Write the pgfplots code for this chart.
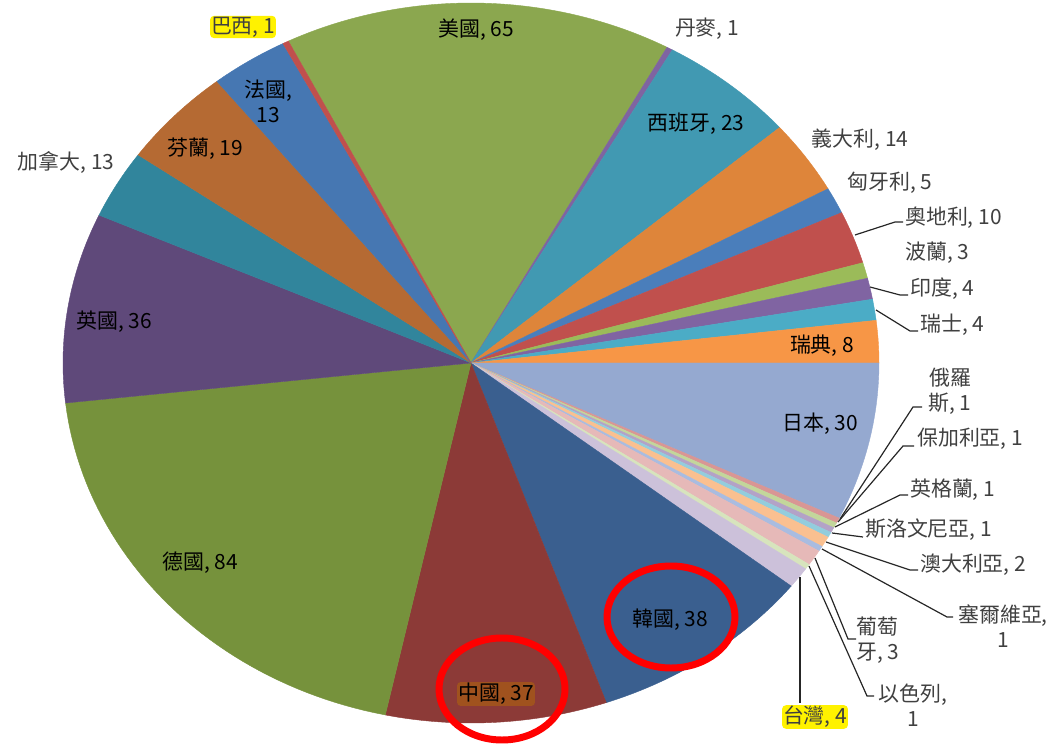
\documentclass[border=0pt]{standalone}
\usepackage{pgfplots}
\pgfplotsset{compat=1.18}
\usepackage{fontspec}
\setmainfont{Noto Sans CJK TC}
\definecolor{cUSA}{HTML}{8BA74F}
\definecolor{cDEN}{HTML}{7F64A1}
\definecolor{cESP}{HTML}{4199B2}
\definecolor{cITA}{HTML}{DE853A}
\definecolor{cHUN}{HTML}{4A7EBB}
\definecolor{cAUT}{HTML}{C0504D}
\definecolor{cPOL}{HTML}{9BBB59}
\definecolor{cIND}{HTML}{8064A2}
\definecolor{cSUI}{HTML}{4BACC6}
\definecolor{cSWE}{HTML}{F79646}
\definecolor{cJPN}{HTML}{95A9D0}
\definecolor{cRUS}{HTML}{D99694}
\definecolor{cBUL}{HTML}{C3D69B}
\definecolor{cENG}{HTML}{B3A2C7}
\definecolor{cSLO}{HTML}{93CDDD}
\definecolor{cAUS}{HTML}{FAC090}
\definecolor{cSRB}{HTML}{A9BCE0}
\definecolor{cPOR}{HTML}{E6B9B8}
\definecolor{cISR}{HTML}{D7E4BD}
\definecolor{cTWN}{HTML}{CCC1DA}
\definecolor{cKOR}{HTML}{3A5F8F}
\definecolor{cCHN}{HTML}{8C3A37}
\definecolor{cGER}{HTML}{76923C}
\definecolor{cGBR}{HTML}{5F497A}
\definecolor{cCAN}{HTML}{31859C}
\definecolor{cFIN}{HTML}{B56A33}
\definecolor{cFRA}{HTML}{4677B2}
\definecolor{cBRA}{HTML}{C0504D}
\definecolor{outtxt}{HTML}{404040}
\definecolor{leader}{HTML}{262626}
\definecolor{chnbg}{HTML}{A0521E}
\tikzset{lbl/.style={font=\fontsize{21}{25}\selectfont}}

\newcommand\cum{0}
\newcommand\total{423}
\newcommand\startang{116.5957}
\newcommand\slice[2]{%
  \pgfmathsetmacro\sa{\startang-\cum/\total*360}%
  \pgfmathsetmacro\ea{\startang-(\cum+#1)/\total*360}%
  \edef\doit{\noexpand\addplot[fill=#2, draw=#2, line width=0.4pt, domain=\ea:\sa, samples=50]
    ({471+408*cos(x)},{381+360*sin(x)}) -- (471,381) -- cycle;}%
  \doit
  \pgfmathsetmacro\newcum{\cum+#1}%
  \global\let\cum\newcum}

\begin{document}
\begin{tikzpicture}
\useasboundingbox (0,0) rectangle (1054bp,744bp);
\begin{axis}[
  scale only axis, width=1054bp, height=744bp,
  xmin=0, xmax=1054, ymin=0, ymax=744,
  hide axis, clip=false,
]
\slice{65}{cUSA}
\slice{1}{cDEN}
\slice{23}{cESP}
\slice{14}{cITA}
\slice{5}{cHUN}
\slice{10}{cAUT}
\slice{3}{cPOL}
\slice{4}{cIND}
\slice{4}{cSUI}
\slice{8}{cSWE}
\slice{30}{cJPN}
\slice{1}{cRUS}
\slice{1}{cBUL}
\slice{1}{cENG}
\slice{1}{cSLO}
\slice{2}{cAUS}
\slice{1}{cSRB}
\slice{3}{cPOR}
\slice{1}{cISR}
\slice{4}{cTWN}
\slice{38}{cKOR}
\slice{37}{cCHN}
\slice{84}{cGER}
\slice{36}{cGBR}
\slice{13}{cCAN}
\slice{19}{cFIN}
\slice{13}{cFRA}
\slice{1}{cBRA}

% leader lines
\draw[leader, line width=1.2pt] (855,509) -- (895,522) -- (903,522);
\draw[leader, line width=1.2pt] (870,457) -- (900,449) -- (908,449);
\draw[leader, line width=1.2pt] (876,434) -- (910,413) -- (918,413);
\draw[leader, line width=1.2pt] (840,225) -- (913,337) -- (922,337);
\draw[leader, line width=1.2pt] (838,222) -- (903,298) -- (914,298);
\draw[leader, line width=1.2pt] (835,217) -- (900,249) -- (908,249);
\draw[leader, line width=1.2pt] (832,211) -- (863,207);
\draw[leader, line width=1.2pt] (826,202) -- (910,174) -- (918,174);
\draw[leader, line width=1.2pt] (822,195) -- (947,127) -- (953,127);
\draw[leader, line width=1.2pt] (815,186) -- (848,105) -- (856,105);
\draw[leader, line width=1.2pt] (809,178) -- (867,48) -- (874,48);
\draw[leader, line width=1.2pt] (800,167) -- (800,41);

% inside labels
\node[lbl, text=black] at (476,714) {美國, 65};
\node[lbl, text=black] at (696,620) {西班牙, 23};
\node[lbl, text=black] at (822,398) {瑞典, 8};
\node[lbl, text=black] at (820,320) {日本, 30};
\node[lbl, text=black] at (670,124) {韓國, 38};
\node[lbl, text=black, fill=chnbg, rounded corners=3pt, inner sep=1pt] at (496,50) {中國, 37};
\node[lbl, text=black] at (200,181) {德國, 84};
\node[lbl, text=black] at (114,422) {英國, 36};
\node[lbl, text=black] at (205,595) {芬蘭, 19};
\node[lbl, text=black, align=center, inner sep=0pt] at (268,643) {法國,\\13};

% outside labels
\node[lbl, text=outtxt] at (707,715) {丹麥, 1};
\node[lbl, text=outtxt] at (860,604) {義大利, 14};
\node[lbl, text=outtxt] at (890,561) {匈牙利, 5};
\node[lbl, text=outtxt, anchor=west, inner sep=1pt] at (904,526) {奧地利, 10};
\node[lbl, text=outtxt, anchor=west, inner sep=1pt] at (904,491) {波蘭, 3};
\node[lbl, text=outtxt, anchor=west, inner sep=1pt] at (909,455) {印度, 4};
\node[lbl, text=outtxt, anchor=west, inner sep=1pt] at (919,419) {瑞士, 4};
\node[lbl, text=outtxt, align=center, inner sep=0pt] at (950,353) {俄羅\\斯, 1};
\node[lbl, text=outtxt, anchor=west, inner sep=1pt] at (916,305) {保加利亞, 1};
\node[lbl, text=outtxt, anchor=west, inner sep=1pt] at (909,254) {英格蘭, 1};
\node[lbl, text=outtxt, anchor=west, inner sep=1pt] at (864,214) {斯洛文尼亞, 1};
\node[lbl, text=outtxt, anchor=west, inner sep=1pt] at (919,179) {澳大利亞, 2};
\node[lbl, text=outtxt, align=center, inner sep=0pt] at (1003,118) {塞爾維亞,\\1};
\node[lbl, text=outtxt, align=left, anchor=west, inner sep=0pt] at (856,104) {葡萄\\牙, 3};
\node[lbl, text=outtxt, align=center, inner sep=0pt] at (913,39) {以色列,\\1};
\node[lbl, text=outtxt, fill=yellow, rounded corners=4pt, inner sep=1pt] at (815,27) {台灣, 4};
\node[lbl, text=outtxt] at (66,581) {加拿大, 13};
\node[lbl, text=outtxt, fill=yellow, rounded corners=4pt, inner sep=1pt] at (243,717) {巴西, 1};

% red circles
\draw[red, line width=7pt] (502,55) ellipse [x radius=63bp, y radius=51bp];
\draw[red, line width=7pt] (671,127) ellipse [x radius=64bp, y radius=51bp];
\end{axis}
\end{tikzpicture}
\end{document}
